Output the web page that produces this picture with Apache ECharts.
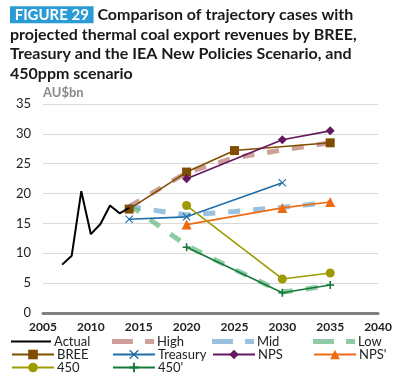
<!DOCTYPE html>
<html>
<head>
<meta charset="UTF-8">
<title>Figure 29</title>
<script src="https://cdn.jsdelivr.net/npm/echarts@6/dist/echarts.min.js"></script>
<style>
  html, body { margin: 0; padding: 0; background: #fff; }
  #chart { width: 395px; height: 377px; }
</style>
</head>
<body>
<div id="chart"></div>
<script>
// data (AU$bn)
const actual   = [[2007, 8.1], [2008, 9.6], [2009, 20.4], [2010, 13.2], [2011, 14.9], [2012, 18.0], [2013, 16.7], [2014, 17.6]];
const high     = [[2014, 17.8], [2020, 23.5], [2025, 26.0], [2030, 27.3], [2035, 28.5]];
const mid      = [[2014, 18.0], [2015, 17.6], [2020, 16.4], [2025, 17.0], [2030, 17.7], [2035, 18.5]];
const low      = [[2014, 18.0], [2015, 17.0], [2020, 11.3], [2025, 7.3], [2030, 3.5], [2035, 4.6]];
const bree     = [[2014, 17.4], [2020, 23.6], [2025, 27.2], [2035, 28.5]];
const treasury = [[2014, 15.7], [2020, 16.1], [2030, 21.8]];
const nps      = [[2020, 22.5], [2030, 29.0], [2035, 30.5]];
const npsDash  = [[2020, 14.8], [2030, 17.6], [2035, 18.6]];
const s450     = [[2020, 18.0], [2030, 5.7], [2035, 6.7]];
const s450Dash = [[2020, 11.0], [2030, 3.4], [2035, 4.7]];
const xTicks = [2005, 2040, 5];
const yTicks = [0, 35, 5];

const font = 'Lato, "Open Sans", sans-serif';
const crossX = 'path://M1,0L5,4L9,0L10,1L6,5L10,9L9,10L5,6L1,10L0,9L4,5L0,1Z';
const plus = 'path://M4,0H6V4H10V6H6V10H4V6H0V4H4Z';
const dashIcon = 'path://M0,0H21V5H0ZM33,0H42V5H33Z';
const lineIcon = 'path://M0,0H40V2H0Z';

function marked(name, data, color, symbol, size) {
  return {
    name, type: 'line', data, symbol, symbolSize: size,
    lineStyle: { color, width: 1.6 }, itemStyle: { color }, z: 5
  };
}
function dashed(name, data, color) {
  return {
    name, type: 'line', data, symbol: 'none',
    lineStyle: { color, width: 5, type: [12, 13], opacity: 0.7 },
    itemStyle: { color, opacity: 0.7 }, z: 3
  };
}

const legendPos = [
  ['Actual', 6, 330], ['High', 107, 330], ['Mid', 207, 330], ['Low', 308, 330],
  ['BREE', 6, 343], ['Treasury', 107, 343], ['NPS', 207, 343], ["NPS'", 308, 343],
  ['450', 6, 356], ["450'", 107, 356]
];
const dashedNames = ['High', 'Mid', 'Low'];

function legendItem(n, l, t) {
  const base = {
    left: l, top: t, itemWidth: 42, itemHeight: 12, itemGap: 4,
    textStyle: { fontFamily: font, fontSize: 13, color: '#222', padding: [0, 0, 0, -2] }
  };
  if (dashedNames.includes(n)) {
    return Object.assign(base, {
      data: [{ name: n, icon: dashIcon }], itemHeight: 5,
      lineStyle: { opacity: 0, width: 0 }, itemStyle: { borderWidth: 0 }
    });
  }
  if (n === 'Actual') {
    return Object.assign(base, {
      data: [{ name: n, icon: lineIcon }], itemWidth: 40, itemHeight: 2,
      lineStyle: { opacity: 0, width: 0 }, itemStyle: { borderWidth: 0 }
    });
  }
  return Object.assign(base, { data: [n] });
}

const chart = echarts.init(document.getElementById('chart'));
chart.setOption({
  animation: false,
  title: {
    left: 5, top: 0,
    text: '{box| FIGURE 29 } Comparison of trajectory cases with\nprojected thermal coal export revenues by BREE,\nTreasury and the IEA New Policies Scenario, and\n450ppm scenario',
    textStyle: {
      fontFamily: font, fontSize: 16, fontWeight: 'bold', color: '#1a1a1a', lineHeight: 19.7,
      rich: {
        box: { backgroundColor: '#2a9bd5', color: '#fff', fontFamily: font, fontSize: 15, fontWeight: 'bold', lineHeight: 17, height: 17, padding: [0, 1] }
      }
    }
  },
  legend: legendPos.map(([n, l, t]) => legendItem(n, l, t)),
  grid: { left: 43, right: 16, top: 104, bottom: 64 },
  xAxis: {
    type: 'value', min: xTicks[0], max: xTicks[1], interval: xTicks[2],
    axisLine: { lineStyle: { color: '#808080', width: 3 } },
    axisTick: { show: false }, splitLine: { show: false },
    axisLabel: { fontFamily: font, fontSize: 12, fontWeight: 'bold', color: '#222', margin: 8, formatter: v => String(v) }
  },
  yAxis: {
    type: 'value', min: yTicks[0], max: yTicks[1], interval: yTicks[2],
    name: 'AU$bn', nameGap: 5,
    nameTextStyle: { fontFamily: font, fontSize: 13, fontWeight: 'bold', color: '#8a8a8a', align: 'left' },
    axisLine: { show: false }, axisTick: { show: false },
    splitLine: { lineStyle: { color: '#d9d9d9', width: 1 } },
    axisLabel: { fontFamily: font, fontSize: 13, color: '#222', margin: 12 }
  },
  series: [
    { name: 'Actual', type: 'line', data: actual, symbol: 'none', lineStyle: { color: '#000', width: 2 }, itemStyle: { color: '#000' }, z: 6 },
    dashed('High', high, '#b9786e'),
    dashed('Mid', mid, '#6fa8d0'),
    dashed('Low', low, '#5fb57f'),
    marked('BREE', bree, '#7f4e00', 'rect', 9),
    marked('Treasury', treasury, '#1f6ea8', crossX, 8),
    marked('NPS', nps, '#64185f', 'diamond', 9),
    marked("NPS'", npsDash, '#f06a14', 'triangle', 10),
    marked('450', s450, '#9e9b00', 'circle', 9),
    marked("450'", s450Dash, '#167a3a', plus, 8)
  ]
});
</script>
</body>
</html>
